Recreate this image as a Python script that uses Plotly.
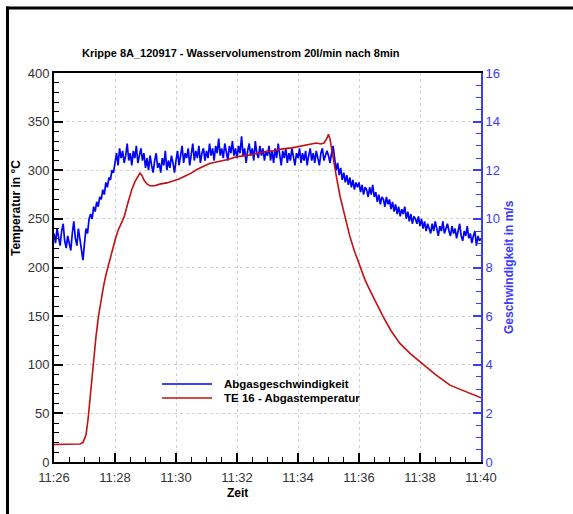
import pandas as pd
import plotly.graph_objects as go

# ---------------------------------------------------------------- data
START = pd.Timestamp("2012-09-17 11:26:00")

# exhaust velocity in m/s, one sample every 3 s from 11:26:00 (one row per minute)
velocity_step_s = 3
velocity = [
    9.4, 9.0, 9.6, 9.2, 8.9, 9.5, 9.8, 9.1, 8.8, 9.3, 9.0, 8.7, 9.4, 9.9, 9.2, 8.9, 9.6, 9.1, 8.8, 8.3,
    9.0, 9.6, 9.4, 10.0, 10.2, 10.0, 10.5, 10.3, 10.7, 10.5, 10.9, 10.8, 11.2, 11.0, 11.5, 11.3, 11.7, 11.6, 12.0, 11.9,
    12.3, 12.7, 12.2, 12.9, 12.5, 12.8, 12.3, 12.6, 13.1, 12.4, 12.7, 12.2, 12.8, 12.5, 13.0, 12.3, 12.6, 12.9, 12.4, 12.7,
    12.1, 12.5, 12.0, 12.6, 12.2, 11.9, 12.4, 12.7, 12.1, 12.3, 11.9, 12.5, 12.2, 12.8, 12.0, 12.4, 12.1, 12.6, 12.3, 11.9,
    12.4, 12.8, 12.2, 12.6, 13.0, 12.3, 12.7, 12.5, 12.9, 12.2, 12.6, 13.1, 12.4, 12.8, 12.5, 13.0, 12.3, 12.7, 12.9, 12.4,
    12.8, 12.5, 13.1, 12.6, 12.9, 12.4, 13.0, 12.7, 13.3, 12.6, 12.9, 12.5, 13.1, 12.8, 12.4, 13.0, 12.7, 13.2, 12.6, 12.9,
    12.5, 13.0, 12.7, 13.4, 12.6, 12.9, 12.3, 12.8, 13.1, 12.6, 12.9, 12.4, 13.2, 12.7, 12.5, 13.0, 12.6, 12.9, 12.4, 12.8,
    12.6, 13.0, 12.4, 12.8, 12.3, 12.9, 12.5, 13.1, 12.6, 12.2, 12.8, 12.5, 12.9, 12.3, 12.7, 12.4, 12.9, 12.6, 12.2, 12.7,
    12.5, 12.9, 12.3, 12.7, 12.4, 12.8, 12.2, 12.6, 12.9, 12.4, 12.7, 12.3, 12.8, 12.5, 12.2, 12.7, 12.9, 12.4, 12.6, 12.8,
    12.6, 12.3, 12.7, 13.0, 12.5, 12.0, 12.3, 11.8, 12.1, 11.6, 11.9, 11.5, 11.8, 11.4, 11.7, 11.3, 11.6, 11.2, 11.5, 11.3,
    11.5, 11.1, 11.4, 11.0, 11.3, 11.2, 10.9, 11.3, 11.0, 11.4, 10.9, 11.1, 10.7, 11.0, 10.6, 10.9, 10.8, 10.5, 10.9, 10.6,
    10.8, 10.4, 10.7, 10.3, 10.6, 10.2, 10.5, 10.1, 10.4, 10.2, 10.5, 10.0, 10.3, 9.9, 10.2, 9.8, 10.1, 10.0, 9.8, 10.1,
    9.7, 10.0, 9.6, 9.9, 9.5, 9.8, 9.6, 9.4, 9.8, 9.5, 9.9, 9.6, 9.3, 9.7, 9.5, 9.9, 9.4, 9.6, 9.8, 9.5,
    9.3, 9.7, 9.4, 9.6, 9.2, 9.5, 9.8, 9.3, 9.1, 9.5, 9.3, 9.7, 9.2, 9.4, 9.0, 9.3, 9.5, 8.9, 9.3, 9.1,
    9.2,
]

# exhaust temperature TE 16 in °C, sampled at the given minutes after 11:26
temp_minutes = [
    0, 0.3, 0.6, 0.85, 0.95, 1.05, 1.12, 1.2, 1.3, 1.38, 1.46, 1.54, 1.62, 1.7, 1.8, 1.9, 2.0, 2.1,
    2.2, 2.3, 2.42, 2.55, 2.65, 2.75, 2.82, 2.88, 2.95, 3.05, 3.15, 3.3, 3.5, 3.7, 3.9, 4.1, 4.3,
    4.5, 4.7, 4.9, 5.1, 5.4, 5.7, 6.0, 6.3, 6.6, 6.9, 7.2, 7.5, 7.8, 8.1, 8.4, 8.6, 8.75, 8.85,
    8.95, 9.0, 9.05, 9.12, 9.25, 9.38, 9.55, 9.7, 9.85, 10.03, 10.2, 10.4, 10.6, 10.8, 11.05,
    11.34, 11.7, 12.1, 12.5, 12.98, 13.5, 14.0,
]
temperature = [
    18, 18, 18, 18.5, 20, 28, 45, 72, 105, 130, 150, 166, 180, 192, 205, 217, 228, 238,
    245, 252, 266, 280, 288, 294, 297, 295, 290, 286, 284, 284, 286, 287, 289, 291, 294,
    297, 301, 304, 307, 309, 311, 314, 315, 317, 319, 320, 322, 323, 325, 327, 328, 327, 328,
    333, 337, 332, 318, 295, 273, 250, 232, 217, 201, 187, 174, 161, 149, 135,
    122, 111, 100, 90, 79, 72, 66,
]

x_ticks_dtick_min = 2
title_text = "Krippe 8A_120917 - Wasservolumenstrom 20l/min nach 8min"
y_left_title = "Temperatur in °C"
y_right_title = "Geschwindigkeit in m/s"
x_title = "Zeit"
name_velocity = "Abgasgeschwindigkeit"
name_temperature = "TE 16 - Abgastemperatur"

# ---------------------------------------------------------------- layout helpers
W, H = 573, 514
PL, PR, PT, PB = 54, 481, 73, 462  # plot area in pixels
FONT = "Liberation Sans, Arial, sans-serif"
BLUE = "#0000ff"
AXIS_BLUE = "#3a3aff"
RED = "#c41010"
GRID = "#d2d2d2"


def px(xpix):
    return (xpix - PL) / (PR - PL)


def py(ypix):
    return (PB - ypix) / (PB - PT)


vel_time = [START + pd.Timedelta(seconds=velocity_step_s * i) for i in range(len(velocity))]
temp_time = [START + pd.Timedelta(minutes=m) for m in temp_minutes]

fig = go.Figure()
fig.add_trace(go.Scatter(
    x=vel_time, y=velocity, mode="lines", name=name_velocity,
    line=dict(color=BLUE, width=1.7), yaxis="y", showlegend=False,
))
fig.add_trace(go.Scatter(
    x=temp_time, y=temperature, mode="lines", name=name_temperature,
    line=dict(color=RED, width=1.6), yaxis="y2", showlegend=False,
))

tickfont = dict(family=FONT, size=13, color="#333333")
fig.update_layout(
    width=W, height=H,
    margin=dict(l=PL, r=W - PR, t=PT, b=H - PB, pad=0),
    paper_bgcolor="white", plot_bgcolor="white",
    font=dict(family=FONT),
    xaxis=dict(
        type="date",
        range=[START, START + pd.Timedelta(minutes=14)],
        tickformat="%H:%M",
        dtick=x_ticks_dtick_min * 60000,
        tick0=START,
        ticks="inside", ticklen=9, tickwidth=2, tickcolor="black",
        minor=dict(ticks="inside", ticklen=5, tickwidth=1, tickcolor="black",
                   dtick=30000, showgrid=False),
        showline=True, linecolor="black", linewidth=2, mirror=True,
        showgrid=True, gridcolor=GRID, griddash="dot", gridwidth=1,
        tickfont=tickfont, zeroline=False, ticklabelstandoff=2,
    ),
    # velocity on the right (blue)
    yaxis=dict(
        side="right", range=[0, 16], dtick=2,
        ticks="inside", ticklen=8, tickwidth=2, tickcolor=AXIS_BLUE,
        minor=dict(ticks="inside", ticklen=5, tickwidth=1, tickcolor=AXIS_BLUE,
                   dtick=0.5, showgrid=False),
        showline=True, linecolor=AXIS_BLUE, linewidth=2,
        showgrid=True, gridcolor=GRID, griddash="dot", gridwidth=1,
        tickfont=dict(family=FONT, size=13, color=AXIS_BLUE), zeroline=False,
    ),
    # temperature on the left (black)
    yaxis2=dict(
        overlaying="y", side="left", range=[0, 400], dtick=50,
        ticks="inside", ticklen=9, tickwidth=2, tickcolor="black",
        minor=dict(ticks="inside", ticklen=5, tickwidth=1, tickcolor="black",
                   dtick=10, showgrid=False),
        showline=True, linecolor="black", linewidth=2,
        showgrid=False, tickfont=tickfont, zeroline=False,
    ),
)

bold = dict(family=FONT, color="black")
ann = [
    dict(text=f"<b>{title_text}</b>", x=px(241), y=py(53), font=dict(bold, size=11)),
    dict(text=f"<b>{y_left_title}</b>", x=px(16), y=py(208), textangle=-90,
         font=dict(bold, size=12)),
    dict(text=f"<b>{y_right_title}</b>", x=px(509), y=py(267), textangle=-90,
         font=dict(family=FONT, size=12, color=AXIS_BLUE)),
    dict(text=f"<b>{x_title}</b>", x=px(237), y=py(493), font=dict(bold, size=12)),
    dict(text=f"<b>{name_velocity}</b>", x=px(222), y=py(384), xanchor="left",
         font=dict(bold, size=11.5)),
    dict(text=f"<b>{name_temperature}</b>", x=px(222), y=py(398), xanchor="left",
         font=dict(bold, size=11.5)),
]
for a in ann:
    a.setdefault("xanchor", "center")
    a.update(xref="paper", yref="paper", yanchor="middle", showarrow=False)
fig.update_layout(annotations=ann)

shapes = [
    # legend line samples
    dict(type="line", x0=px(162), x1=px(212), y0=py(384), y1=py(384),
         line=dict(color=BLUE, width=1.6)),
    dict(type="line", x0=px(162), x1=px(212), y0=py(398), y1=py(398),
         line=dict(color=RED, width=1.6)),
    # page frame (top and left)
    dict(type="line", x0=px(6), x1=px(573), y0=py(8), y1=py(8),
         line=dict(color="black", width=3)),
    dict(type="line", x0=px(7.5), x1=px(7.5), y0=py(6.5), y1=py(514),
         line=dict(color="black", width=3)),
]
for s in shapes:
    s.update(xref="paper", yref="paper")
fig.update_layout(shapes=shapes)

fig.write_html("out.html")
